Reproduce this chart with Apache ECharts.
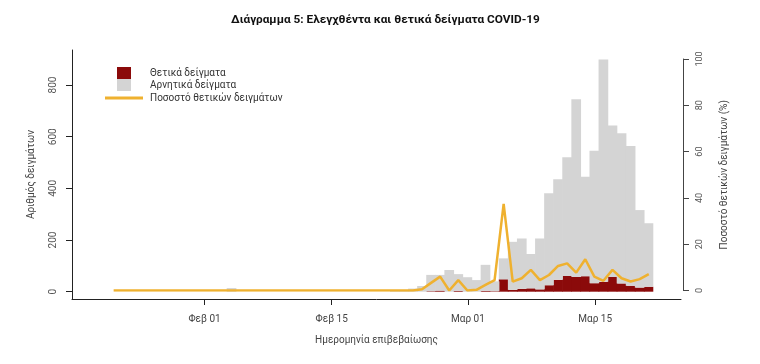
<!DOCTYPE html>
<html>
<head>
<meta charset="utf-8">
<script src="https://cdn.jsdelivr.net/npm/echarts@6/dist/echarts.min.js"></script>
<style>html,body{margin:0;padding:0;background:#fff;}#c{width:760px;height:364px;}</style>
</head>
<body>
<div id="c"></div>
<script>
var titleText = 'Διάγραμμα 5: Ελεγχθέντα και θετικά δείγματα COVID-19';
var seriesNames = ['Θετικά δείγματα', 'Αρνητικά δείγματα', 'Ποσοστό θετικών δειγμάτων'];
var xAxisName = 'Ημερομηνία επιβεβαίωσης';
var yLeftName = 'Αριθμός δειγμάτων';
var yRightName = 'Ποσοστό θετικών δειγμάτων (%)';

var dates = [
  '2020-01-22','2020-01-23','2020-01-24','2020-01-25','2020-01-26','2020-01-27','2020-01-28','2020-01-29','2020-01-30','2020-01-31',
  '2020-02-01','2020-02-02','2020-02-03','2020-02-04','2020-02-05','2020-02-06','2020-02-07','2020-02-08','2020-02-09','2020-02-10',
  '2020-02-11','2020-02-12','2020-02-13','2020-02-14','2020-02-15','2020-02-16','2020-02-17','2020-02-18','2020-02-19','2020-02-20',
  '2020-02-21','2020-02-22','2020-02-23','2020-02-24','2020-02-25','2020-02-26','2020-02-27','2020-02-28','2020-02-29','2020-03-01',
  '2020-03-02','2020-03-03','2020-03-04','2020-03-05','2020-03-06','2020-03-07','2020-03-08','2020-03-09','2020-03-10','2020-03-11',
  '2020-03-12','2020-03-13','2020-03-14','2020-03-15','2020-03-16','2020-03-17','2020-03-18','2020-03-19','2020-03-20','2020-03-21'
];
var positive = [
  0,0,0,0,0,0,0,0,0,0,
  0,0,0,0,0,0,0,0,0,0,
  0,0,0,0,0,0,0,0,0,0,
  0,0,0,0,0,2,4,0,3,0,
  0,3,2,48,7,11,13,9,25,46,
  61,57,60,33,38,57,32,23,16,19
];
var negative = [
  0,0,0,0,0,0,0,0,0,0,
  0,0,0,14,0,0,0,0,0,0,
  0,0,0,0,0,0,0,0,0,0,
  0,4,6,12,22,63,61,84,65,56,
  45,101,38,81,186,195,133,197,356,389,
  459,688,385,513,861,586,581,541,300,246
];
var pctPositive = [
  0,0,0,0,0,0,0,0,0,0,
  0,0,0,0,0,0,0,0,0,0,
  0,0,0,0,0,0,0,0,0,0,
  0,0,0,0,0.5,3.3,6.0,0,4.5,0,
  0.3,2.4,4.5,37.4,3.8,5.3,8.9,4.5,6.7,10.6,
  11.7,7.7,13.5,6.0,4.2,8.9,5.3,3.9,4.9,7.1
];
var tickDates = ['2020-02-01','2020-02-15','2020-03-01','2020-03-15'];
var tickLabels = ['Φεβ 01','Φεβ 15','Μαρ 01','Μαρ 15'];
var leftTicks = [0, 200, 400, 600, 800];
var rightTicks = [0, 20, 40, 60, 80, 100];

function dayIndex(s) {
  var p = s.split('-');
  return (Date.UTC(+p[0], +p[1] - 1, +p[2]) - Date.UTC(2020, 0, 1)) / 86400000;
}
var tickX = tickDates.map(dayIndex);

var FONT = 'Roboto';
var chart = echarts.init(document.getElementById('c'), null, { renderer: 'canvas' });
// outer frame: day-of-year range covered by the axis line
var xMin = 16.41, xMax = 83.45;
var yMin = -28.3, yMax = 935.7;
var barLeft = 109.1, barRight = 106.7;
chart.setOption({
  animation: false,
  backgroundColor: '#ffffff',
  textStyle: { fontFamily: FONT },
  title: {
    text: titleText, left: 226, top: 9,
    textStyle: { fontFamily: FONT, fontSize: 11.8, fontWeight: 'bold', color: '#111' }
  },
  legend: [
    {
      data: [seriesNames[0], seriesNames[1]], padding: 0,
      orient: 'vertical', left: 117, top: 67, itemWidth: 14, itemHeight: 12, itemGap: 0,
      icon: 'rect', selectedMode: false,
      textStyle: { fontFamily: FONT, fontSize: 10, lineHeight: 12, color: '#333', padding: [0, 0, 0, 14] }
    },
    {
      data: [seriesNames[2]], padding: 0,
      orient: 'vertical', left: 105, top: 92, itemWidth: 38, itemHeight: 3,
      icon: 'rect', selectedMode: false,
      textStyle: { fontFamily: FONT, fontSize: 10, lineHeight: 12, color: '#333', padding: [0, 0, 0, 2] }
    }
  ],
  grid: [
    { left: 72, right: 79, top: 50, bottom: 65 },
    { left: barLeft, right: barRight, top: 50, bottom: 65 },
    { left: barLeft, right: barRight, top: 59, bottom: 73.5 }
  ],
  xAxis: [
    {
      type: 'value', gridIndex: 0, min: xMin, max: xMax,
      axisLine: { show: true, onZero: false, lineStyle: { color: '#222', width: 1 } },
      axisTick: { show: true, length: 6, customValues: tickX, lineStyle: { color: '#222' } },
      axisLabel: {
        customValues: tickX, margin: 15, fontSize: 10, color: '#444', fontFamily: FONT,
        formatter: function (v) { var i = tickX.indexOf(v); return i >= 0 ? tickLabels[i] : ''; }
      },
      splitLine: { show: false },
      name: xAxisName, nameLocation: 'middle', nameGap: 36,
      nameTextStyle: { fontSize: 10, color: '#444', fontFamily: FONT }
    },
    { type: 'category', gridIndex: 1, data: dates, show: false, boundaryGap: true },
    { type: 'category', gridIndex: 2, data: dates, show: false, boundaryGap: true }
  ],
  yAxis: [
    {
      type: 'value', gridIndex: 0, position: 'left', min: yMin, max: yMax,
      axisLine: { show: true, onZero: false, lineStyle: { color: '#222', width: 1 } },
      axisTick: { show: true, length: 6, customValues: leftTicks, lineStyle: { color: '#222' } },
      axisLabel: { customValues: leftTicks, rotate: 90, margin: 14, fontSize: 10, color: '#555', fontFamily: FONT },
      splitLine: { show: false },
      name: yLeftName, nameLocation: 'middle', nameRotate: 90, nameGap: 36,
      nameTextStyle: { fontSize: 10, color: '#444', fontFamily: FONT }
    },
    { type: 'value', gridIndex: 1, min: yMin, max: yMax, show: false },
    {
      type: 'value', gridIndex: 2, position: 'right', min: 0, max: 100, offset: 683 - (760 - barRight),
      axisLine: { show: true, onZero: false, lineStyle: { color: '#444', width: 1 } },
      axisTick: { show: true, length: 6, customValues: rightTicks, lineStyle: { color: '#444' } },
      axisLabel: { customValues: rightTicks, rotate: 90, margin: 12, fontSize: 9, color: '#555', fontFamily: FONT },
      splitLine: { show: false },
      name: yRightName, nameLocation: 'middle', nameRotate: 90, nameGap: 36,
      nameTextStyle: { fontSize: 10, color: '#444', fontFamily: FONT }
    }
  ],
  series: [
    {
      name: seriesNames[0], type: 'bar', stack: 'tests', xAxisIndex: 1, yAxisIndex: 1,
      data: positive, itemStyle: { color: '#8B0A0A' },
      barWidth: 9.7, barCategoryGap: '0%', barGap: '0%'
    },
    {
      name: seriesNames[1], type: 'bar', stack: 'tests', xAxisIndex: 1, yAxisIndex: 1,
      data: negative, itemStyle: { color: '#D4D4D4' },
      barWidth: 9.7, barCategoryGap: '0%', barGap: '0%'
    },
    {
      name: seriesNames[2], type: 'line', xAxisIndex: 2, yAxisIndex: 2,
      data: pctPositive, showSymbol: false, symbol: 'none',
      lineStyle: { color: '#EFB12F', width: 2.5 }, itemStyle: { color: '#EFB12F' }
    }
  ]
});
</script>
</body>
</html>
